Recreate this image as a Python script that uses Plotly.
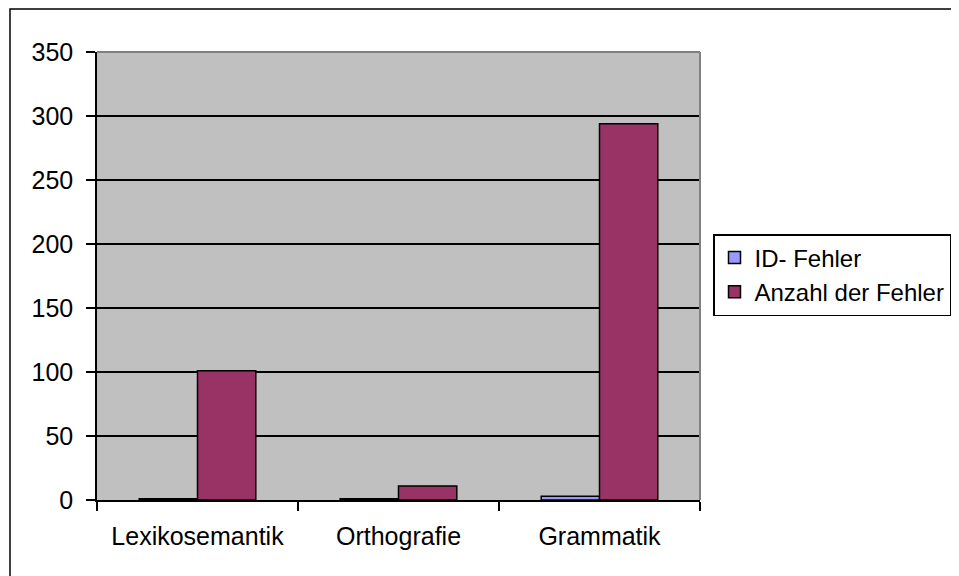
import plotly.graph_objects as go

categories = ["Lexikosemantik", "Orthografie", "Grammatik"]
id_fehler = [1, 1, 3]
anzahl_fehler = [101, 11, 294]
y_ticks = [0, 50, 100, 150, 200, 250, 300, 350]

# page body adds an 8px offset; figure coordinates are screen - 8
W, H = 959, 568
L, R, T, B = 89, 267, 44, 76
pw, ph = W - L - R, H - T - B

def px_x(x):
    return (x - L) / pw

def px_y(y):
    return (H - B - y) / ph

font = dict(family="Liberation Sans, Arial, sans-serif", size=25, color="black")
legend_font = dict(family="Liberation Sans, Arial, sans-serif", size=24, color="black")

fig = go.Figure()
fig.add_bar(x=categories, y=id_fehler, name="ID- Fehler",
            marker=dict(color="#9999FF", line=dict(color="black", width=1.5)))
fig.add_bar(x=categories, y=anzahl_fehler, name="Anzahl der Fehler",
            marker=dict(color="#993366", line=dict(color="black", width=1.5)))

fig.update_layout(
    width=W, height=H,
    margin=dict(l=L, r=R, t=T, b=B, pad=0, autoexpand=False),
    paper_bgcolor="white", plot_bgcolor="#C0C0C0",
    font=font,
    barmode="group", bargap=0.42, bargroupgap=0,
    showlegend=True,
    legend=dict(x=px_x(705), y=px_y(267), xanchor="left", yanchor="middle",
                bordercolor="black", borderwidth=1.5, bgcolor="white",
                font=legend_font, tracegroupgap=0, itemwidth=30),
    xaxis=dict(type="category", showline=True, linecolor="black", linewidth=1.5,
               ticks="outside", tickson="boundaries", ticklen=9, tickcolor="black",
               tickwidth=1.5, showgrid=False, mirror=False, ticklabelstandoff=13),
    yaxis=dict(range=[0, 350], tickvals=y_ticks, showline=True, linecolor="black",
               linewidth=1.5, ticks="outside", ticklen=9, tickcolor="black",
               tickwidth=1.5, showgrid=True, gridcolor="black", gridwidth=1.5,
               zeroline=False, ticklabelstandoff=8),
    shapes=[
        dict(type="rect", xref="paper", yref="paper",
             x0=px_x(2), x1=px_x(1100), y0=px_y(800), y1=px_y(1),
             line=dict(color="black", width=1.5), layer="below"),
        dict(type="line", xref="paper", yref="paper", x0=0, x1=1, y0=1, y1=1,
             line=dict(color="#808080", width=2)),
        dict(type="line", xref="paper", yref="paper", x0=1, x1=1, y0=0, y1=1,
             line=dict(color="#808080", width=2)),
    ],
)

fig.write_html("out.html")
